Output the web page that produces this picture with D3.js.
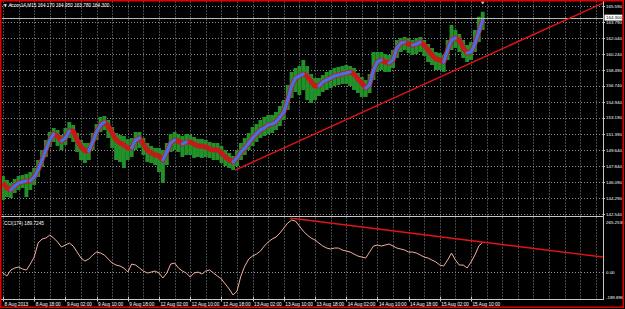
<!DOCTYPE html>
<html>
<head>
<meta charset="utf-8">
<script src="https://cdn.jsdelivr.net/npm/d3@7"></script>
<style>
  html, body { margin: 0; padding: 0; background: #000; }
  svg { display: block; }
  text { font-family: 'Liberation Sans', Arial, sans-serif; font-size: 4.7px; fill: #fff; }
  .axis-label { font-size: 4.4px; }
</style>
</head>
<body>
<svg id="chart" width="625" height="309"></svg>
<script>
// chart values, one entry per hour (4 x M15 bars)
const symbol = '#corn14,M15';
const lastBar = ['164.170', '164.950', '163.780', '164.300'];
const bid = 164.30;

const maVals = [
  145.98, 145.42, 145.20, 145.64, 145.98, 146.09, 146.20, 146.20, 146.64, 147.42,
  148.52, 149.63, 150.74, 151.41, 151.18, 150.63, 150.96, 151.74, 151.74, 150.74,
  149.97, 149.52, 149.52, 150.52, 151.63, 152.40, 152.73, 152.29, 151.52, 150.74,
  150.41, 150.19, 149.86, 149.86, 150.74, 150.96, 150.30, 149.63, 149.30, 149.08,
  148.97, 148.52, 149.41, 150.41, 150.74, 150.63, 150.30, 150.52, 150.52, 150.30,
  150.08, 150.08, 149.97, 149.74, 149.63, 149.63, 149.30, 148.86, 148.52, 148.30,
  148.75, 149.41, 149.86, 150.41, 150.96, 151.41, 151.85, 152.07, 152.40, 152.51,
  152.73, 153.29, 153.84, 155.17, 156.72, 157.61, 157.83, 158.05, 157.83, 157.17,
  156.72, 156.72, 157.17, 157.39, 157.61, 157.83, 157.94, 158.05, 158.17, 158.28,
  158.05, 157.50, 157.06, 156.50, 156.84, 158.50, 159.38, 159.61, 159.38, 159.27,
  159.61, 160.94, 161.49, 161.60, 161.38, 161.27, 161.38, 161.60, 161.27, 160.71,
  160.16, 159.72, 159.61, 159.38, 160.71, 161.82, 162.04, 161.82, 160.94, 160.38,
  160.49, 161.38, 162.71, 164.04
];

const highVals = [
  146.75, 146.31, 145.98, 146.42, 146.75, 146.86, 146.97, 147.19, 147.64, 148.52,
  149.63, 150.74, 151.63, 152.07, 151.85, 151.30, 152.07, 152.73, 152.40, 151.52,
  150.74, 150.41, 150.41, 151.52, 152.51, 153.29, 153.40, 152.96, 152.18, 151.52,
  151.30, 151.18, 150.85, 150.96, 151.63, 151.63, 150.96, 150.41, 150.08, 149.86,
  149.86, 149.63, 150.41, 151.41, 151.63, 151.41, 151.18, 151.41, 151.30, 151.07,
  150.85, 150.85, 150.74, 150.52, 150.41, 150.41, 150.08, 149.63, 149.30, 148.97,
  149.63, 150.41, 150.96, 151.52, 152.18, 152.51, 152.96, 153.29, 153.51, 153.51,
  153.84, 154.51, 155.17, 156.84, 158.28, 158.72, 158.94, 159.61, 158.94, 158.05,
  157.61, 157.61, 157.94, 158.28, 158.50, 158.72, 158.83, 158.94, 159.05, 158.94,
  158.72, 158.17, 157.72, 157.39, 158.05, 160.49, 160.49, 160.49, 160.27, 160.16,
  160.71, 161.82, 162.04, 162.16, 162.04, 161.82, 162.04, 162.16, 161.82, 161.38,
  160.94, 160.49, 160.38, 160.16, 161.82, 163.49, 162.93, 162.49, 161.82, 161.27,
  161.60, 162.93, 164.40, 164.95
];

const lowVals = [
  144.09, 144.42, 144.31, 144.87, 145.20, 145.42, 144.42, 145.20, 145.76, 146.64,
  147.75, 148.86, 149.97, 150.52, 150.08, 149.63, 150.19, 150.96, 150.52, 149.41,
  148.52, 148.19, 148.52, 149.63, 150.74, 151.63, 151.85, 150.96, 149.86, 148.52,
  148.30, 147.64, 148.52, 148.86, 149.63, 149.86, 149.08, 148.30, 148.19, 147.97,
  147.19, 145.98, 147.97, 149.41, 149.63, 149.41, 148.86, 149.08, 149.08, 148.75,
  148.86, 148.75, 148.86, 148.75, 148.52, 148.52, 148.19, 147.86, 147.64, 147.42,
  147.86, 148.52, 149.08, 149.63, 150.08, 150.52, 150.96, 151.18, 151.41, 151.52,
  151.85, 152.29, 152.96, 154.06, 155.40, 156.06, 155.73, 156.28, 155.17, 154.84,
  155.17, 155.62, 156.06, 156.28, 156.50, 156.72, 156.84, 156.95, 156.95, 156.72,
  156.28, 155.95, 155.51, 155.51, 155.95, 157.39, 158.28, 158.50, 158.28, 158.28,
  158.72, 159.83, 160.49, 160.71, 160.38, 160.16, 160.27, 160.49, 160.05, 159.38,
  159.05, 158.50, 158.50, 158.28, 159.61, 160.71, 160.94, 160.49, 159.83, 159.38,
  159.61, 160.49, 161.60, 162.93
];

const cciVals = [
  -5, -20, 10, 20, 25, 15, 10, 40, 75, 145,
  165, 170, 185, 170, 150, 125, 135, 145, 130, 100,
  70, 55, 65, 85, 100, 95, 85, 65, 45, 35,
  30, 20, 0, 40, 35, 20, 5, -5, 0, 5,
  -5, -30, -5, 40, 45, 20, 5, -5, -25, -5,
  0, -10, 5, 10, -5, -20, -35, -60, -85, -115,
  -95, -20, 30, 65, 80, 90, 105, 130, 150, 165,
  175, 195, 220, 245, 260, 255, 230, 205, 185, 170,
  160, 145, 130, 120, 115, 120, 120, 110, 105, 100,
  90, 80, 75, 70, 100, 130, 135, 130, 135, 140,
  130, 120, 115, 110, 100, 100, 95, 85, 75, 70,
  60, 50, 35, 30, 60, 95, 60, 35, 35, 20,
  50, 85, 130, 150
];
const cciTitle = 'CCI(174) 189.7245';

const priceLevels = [165.590, 163.790, 162.040, 160.240, 158.490, 156.740, 154.940,
  153.190, 151.390, 149.640, 147.840, 146.090, 144.290, 142.540];
const cciLevels = [265.2538, 0, -189.896];

const timeLabels = ['8 Aug 2013', '8 Aug 18:00', '9 Aug 02:00', '9 Aug 10:00', '9 Aug 18:00',
  '12 Aug 02:00', '12 Aug 10:00', '12 Aug 18:00', '13 Aug 02:00', '13 Aug 10:00',
  '13 Aug 18:00', '14 Aug 02:00', '14 Aug 10:00', '14 Aug 18:00', '15 Aug 02:00',
  '15 Aug 10:00'];

// trendlines: [hour, value]
const priceTrend = [[59.5, 147.40], [153.8, 165.92]];
const cciTrend = [[73.6, 270], [153.8, 75]];

// layout
const plotRight = 603;
const mainTop = 1.5, mainBottom = 216.5;
const cciTop = 217.5, cciBottom = 299.5;
const hoursPerLabel = 8, hoursPerGrid = 4;

const svg = d3.select('#chart');

const x = d3.scaleLinear().domain([0, 154]).range([3, 603.6]);
const yPrice = d3.scaleLinear().domain([142.54, 165.59]).range([214, 6]);
const yCci = d3.scaleLinear().domain([-189.896, 265.2538]).range([310, 219]);

svg.append('rect').attr('width', 625).attr('height', 309).attr('fill', '#000');

const defs = svg.append('defs');
defs.append('clipPath').attr('id', 'clip-main')
  .append('rect').attr('x', 2).attr('y', mainTop).attr('width', plotRight - 2).attr('height', mainBottom - mainTop);
defs.append('clipPath').attr('id', 'clip-cci')
  .append('rect').attr('x', 2).attr('y', cciTop).attr('width', plotRight - 2).attr('height', cciBottom - cciTop);

const crisp = v => Math.round(v) + 0.5;
const gridColor = '#8c9299';

// grid
const grid = svg.append('g')
  .attr('stroke', gridColor)
  .attr('stroke-width', 1)
  .attr('stroke-dasharray', '1,2');

grid.selectAll('.hgrid')
  .data(priceLevels)
  .join('line')
  .attr('x1', 2).attr('x2', plotRight)
  .attr('y1', d => crisp(yPrice(d))).attr('y2', d => crisp(yPrice(d)));

const gridHours = d3.range(0, 154, hoursPerGrid);
[[mainTop, mainBottom], [cciTop, cciBottom]].forEach(([t, b]) => {
  grid.append('g').selectAll('line')
    .data(gridHours)
    .join('line')
    .attr('x1', d => crisp(x(d))).attr('x2', d => crisp(x(d)))
    .attr('y1', t).attr('y2', b);
});

grid.append('line')
  .attr('x1', 2).attr('x2', plotRight)
  .attr('y1', crisp(yCci(0))).attr('y2', crisp(yCci(0)));

// price bars
const main = svg.append('g').attr('clip-path', 'url(#clip-main)');
const barW = x(1) - x(0);

main.append('g')
  .selectAll('rect')
  .data(highVals)
  .join('rect')
  .attr('x', (d, i) => x(i) - barW / 2)
  .attr('width', barW)
  .attr('y', d => yPrice(d))
  .attr('height', (d, i) => yPrice(lowVals[i]) - yPrice(d))
  .attr('fill', '#22912a');

// moving average: red band underneath, blue drawn over it where rising
const maLine = d3.line().x((d, i) => x(i)).y(d => yPrice(d));

main.append('path')
  .datum(maVals)
  .attr('d', maLine)
  .attr('fill', 'none')
  .attr('stroke', '#c41a1a')
  .attr('stroke-width', 5)
  .attr('stroke-linejoin', 'round');

const rising = d3.range(1, maVals.length).filter(i => maVals[i] > maVals[i - 1]);

main.append('g')
  .selectAll('line')
  .data(rising)
  .join('line')
  .attr('x1', i => x(i - 1)).attr('x2', i => x(i))
  .attr('y1', i => yPrice(maVals[i - 1])).attr('y2', i => yPrice(maVals[i]))
  .attr('stroke', '#4470e0')
  .attr('stroke-width', 3.2)
  .attr('stroke-linecap', 'round');

// bid line
main.append('line')
  .attr('x1', 2).attr('x2', plotRight)
  .attr('y1', crisp(yPrice(bid))).attr('y2', crisp(yPrice(bid)))
  .attr('stroke', '#b8b8b8');

main.append('line')
  .attr('x1', x(priceTrend[0][0])).attr('y1', yPrice(priceTrend[0][1]))
  .attr('x2', x(priceTrend[1][0])).attr('y2', yPrice(priceTrend[1][1]))
  .attr('stroke', '#e41414')
  .attr('stroke-width', 1.4);

// shift marker
svg.append('path')
  .attr('d', `M${x(maVals.length - 1) - 2},1.5 h4 l-2,3 z`)
  .attr('fill', '#c8c8c8');

// CCI window
const cci = svg.append('g').attr('clip-path', 'url(#clip-cci)');

cci.append('path')
  .datum(cciVals)
  .attr('d', d3.line().x((d, i) => x(i)).y(d => yCci(d)))
  .attr('fill', 'none')
  .attr('stroke', '#f0b09c')
  .attr('stroke-width', 1);

cci.append('line')
  .attr('x1', x(cciTrend[0][0])).attr('y1', yCci(cciTrend[0][1]))
  .attr('x2', x(cciTrend[1][0])).attr('y2', yCci(cciTrend[1][1]))
  .attr('stroke', '#e41414')
  .attr('stroke-width', 1.4);

// frame lines
const frame = svg.append('g').attr('stroke', '#c8c8c8').attr('stroke-width', 1);
frame.append('line').attr('x1', crisp(plotRight)).attr('x2', crisp(plotRight)).attr('y1', 1).attr('y2', 300);
frame.append('line').attr('x1', 1).attr('x2', plotRight + 1).attr('y1', 216.5).attr('y2', 216.5);
frame.append('line').attr('x1', 1).attr('x2', plotRight + 1).attr('y1', 299.5).attr('y2', 299.5);

// price axis
const labelX = plotRight + 3;
const priceAxis = svg.append('g');
priceAxis.selectAll('line')
  .data(priceLevels)
  .join('line')
  .attr('x1', plotRight).attr('x2', plotRight + 2)
  .attr('y1', d => crisp(yPrice(d))).attr('y2', d => crisp(yPrice(d)))
  .attr('stroke', '#c8c8c8');
priceAxis.selectAll('text')
  .data(priceLevels)
  .join('text')
  .attr('class', 'axis-label')
  .attr('x', labelX)
  .attr('y', d => yPrice(d) + 1.6)
  .text(d => d3.format('.3f')(d));

priceAxis.append('rect')
  .attr('x', plotRight + 1.5).attr('y', yPrice(bid) - 3)
  .attr('width', 18).attr('height', 6)
  .attr('fill', '#fff');
priceAxis.append('text')
  .attr('class', 'axis-label')
  .attr('x', labelX)
  .attr('y', yPrice(bid) + 1.6)
  .style('fill', '#000')
  .text(d3.format('.3f')(bid));

// cci axis, top and bottom labels kept inside the window
svg.append('g').selectAll('text')
  .data(cciLevels)
  .join('text')
  .attr('class', 'axis-label')
  .attr('x', labelX)
  .attr('y', d => Math.max(222, Math.min(297, yCci(d))) + 1.6)
  .text(d => d === 0 ? '0.00' : String(d));

// time axis
const timeAxis = svg.append('g');
timeAxis.selectAll('line')
  .data(timeLabels)
  .join('line')
  .attr('x1', (d, i) => crisp(x(i * hoursPerLabel))).attr('x2', (d, i) => crisp(x(i * hoursPerLabel)))
  .attr('y1', 297).attr('y2', 301.5)
  .attr('stroke', '#c8c8c8');
timeAxis.selectAll('text')
  .data(timeLabels)
  .join('text')
  .attr('x', (d, i) => x(i * hoursPerLabel) + 1.5)
  .attr('y', 305.5)
  .text(d => d);

// window titles
svg.append('text').attr('x', 3).attr('y', 6.5).text('\u25BC');
svg.append('text').attr('x', 9).attr('y', 6.5).text(`${symbol}  ${lastBar.join(' ')}`);
svg.append('text').attr('x', 4).attr('y', 225).text(cciTitle);

// red outer frame
svg.append('rect')
  .attr('x', 0.75).attr('y', 0.75)
  .attr('width', 622.5).attr('height', 306.5)
  .attr('fill', 'none')
  .attr('stroke', '#e00000')
  .attr('stroke-width', 1.5);
</script>
</body>
</html>
